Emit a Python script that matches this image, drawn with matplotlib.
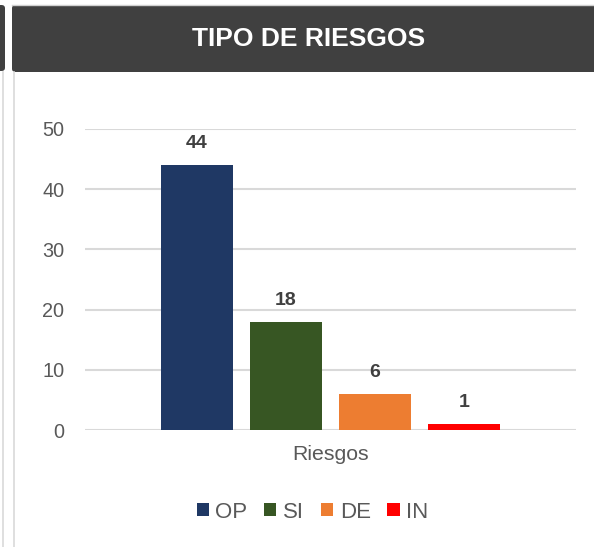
import matplotlib.pyplot as plt
from matplotlib.patches import FancyBboxPatch, Rectangle
from matplotlib.lines import Line2D

title = 'TIPO DE RIESGOS'
series = ['OP', 'SI', 'DE', 'IN']
values = [44, 18, 6, 1]
colors = ['#1F3864', '#375623', '#ED7D31', '#FF0000']
category = 'Riesgos'
yticks = [0, 10, 20, 30, 40, 50]

plt.rcParams['font.family'] = ['Liberation Sans', 'DejaVu Sans']

W, H = 594, 547
fig = plt.figure(figsize=(W / 100, H / 100), dpi=100)
fig.patch.set_facecolor('white')


def fx(px):
    return px / W


def fy(py):
    return 1 - py / H


# panel frame pieces
fig.add_artist(Line2D([fx(12), fx(594)], [fy(4.5), fy(4.5)], color='#d0d0d0', lw=1))
fig.add_artist(FancyBboxPatch((fx(12), fy(72)), fx(600) - fx(12), fy(5) - fy(72),
                              boxstyle='round,pad=0,rounding_size=0.006',
                              fc='#404040', ec='none', transform=fig.transFigure))
fig.add_artist(FancyBboxPatch((fx(-10), fy(71)), fx(15), fy(5) - fy(71),
                              boxstyle='round,pad=0,rounding_size=0.006',
                              fc='#404040', ec='none', transform=fig.transFigure))
fig.add_artist(Line2D([fx(2.5), fx(2.5)], [fy(72), 0], color='#d9d9d9', lw=1.2))
fig.add_artist(Line2D([fx(13.5), fx(13.5)], [fy(72), 0], color='#d9d9d9', lw=1.2))
fig.text(fx(308.5), fy(39), title, color='white', fontsize=19, fontweight='bold',
         ha='center', va='center')

ax = fig.add_axes([fx(85), fy(430), fx(576) - fx(85), fy(129) - fy(430)])
x = list(range(len(series)))
bars = ax.bar(x, values, width=0.8, color=colors, label=series, zorder=3)
for xi, v in zip(x, values):
    ax.text(xi, v + 2.1, str(v), ha='center', va='bottom', fontsize=14,
            fontweight='bold', color='#404040')

ax.set_ylim(0, 50)
ax.set_xlim(-1.26, 4.26)
ax.set_yticks(yticks)
ax.yaxis.grid(True, color='#d9d9d9', lw=1.5, zorder=0)
ax.tick_params(axis='y', length=0, labelsize=14.3, labelcolor='#595959', pad=15)
ax.set_xticks([1.5])
ax.set_xticklabels([category])
ax.tick_params(axis='x', length=0, labelsize=15.3, labelcolor='#595959', pad=11)
for s in ax.spines.values():
    s.set_visible(False)

handles = [Rectangle((0, 0), 1, 1, fc=c) for c in colors]
fig.legend(handles, series, loc='center', bbox_to_anchor=(fx(312.5), fy(512)), ncol=4,
           frameon=False, fontsize=16, handlelength=0.55, handleheight=0.55,
           handletextpad=0.3, columnspacing=0.75, labelcolor='#595959')

fig.savefig('out.png', dpi=100)
